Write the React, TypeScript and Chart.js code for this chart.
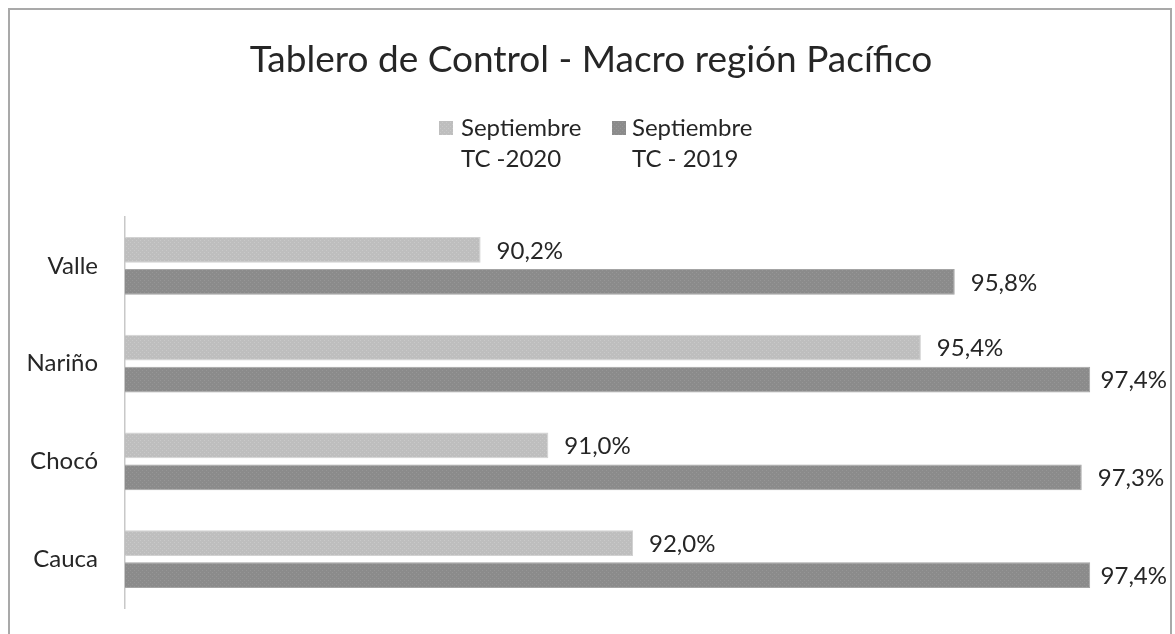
import React, { useEffect, useRef } from "react";
import { Chart, registerables } from "chart.js";

Chart.register(...registerables);

const chartTitle = "Tablero de Control - Macro región Pacífico";
const categories = ["Valle", "Nariño", "Chocó", "Cauca"];
const seriesNames = [
  ["Septiembre", "TC -2020"],
  ["Septiembre", "TC - 2019"],
];
const values2020 = [90.2, 95.4, 91.0, 92.0];
const values2019 = [95.8, 97.4, 97.3, 97.4];
const axisMin = 86;
const axisMax = 98;

const FONT = "Lato";
const TEXT = "#262626";

function fmt(v: number) {
  return v.toFixed(1).replace(".", ",") + "%";
}

function makePattern(base: string, dot: string) {
  const c = document.createElement("canvas");
  c.width = 4;
  c.height = 4;
  const g = c.getContext("2d")!;
  g.fillStyle = base;
  g.fillRect(0, 0, 4, 4);
  g.fillStyle = dot;
  g.fillRect(0, 0, 1, 1);
  g.fillRect(2, 2, 1, 1);
  return g.createPattern(c, "repeat")!;
}

export default function App() {
  const ref = useRef<HTMLCanvasElement | null>(null);

  useEffect(() => {
    if (!ref.current) return;
    const lightFill = makePattern("#bebebe", "#c9c9c9");
    const darkFill = makePattern("#8b8b8b", "#969696");

    const decor = {
      id: "decor",
      afterDraw(chart: any) {
        const ctx = chart.ctx;
        ctx.save();
        // title
        ctx.fillStyle = TEXT;
        ctx.textAlign = "center";
        ctx.textBaseline = "alphabetic";
        ctx.font = `37px ${FONT}`;
        ctx.fillText(chartTitle, chart.width / 2 + 1, 62);
        // legend
        ctx.textAlign = "left";
        ctx.font = `24px ${FONT}`;
        const fills = [lightFill, darkFill];
        const boxX = [429, 602];
        const textX = [451, 622];
        seriesNames.forEach((lines, i) => {
          ctx.fillStyle = fills[i];
          ctx.fillRect(boxX[i], 111, 14, 14);
          ctx.fillStyle = TEXT;
          lines.forEach((ln, k) => ctx.fillText(ln, textX[i], 126 + k * 31));
        });
        ctx.restore();
      },
      afterDatasetsDraw(chart: any) {
        const ctx = chart.ctx;
        ctx.save();
        ctx.font = `24px ${FONT}`;
        ctx.fillStyle = TEXT;
        ctx.textAlign = "left";
        ctx.textBaseline = "middle";
        const limit = 1157;
        chart.data.datasets.forEach((ds: any, i: number) => {
          const meta = chart.getDatasetMeta(i);
          meta.data.forEach((bar: any, j: number) => {
            const t = fmt(ds.data[j]);
            const w = ctx.measureText(t).width;
            let x = bar.x + 16;
            if (x + w > limit) x = limit - w;
            ctx.fillText(t, x, bar.y + 1);
          });
        });
        ctx.restore();
      },
    };

    const chart = new Chart(ref.current, {
      type: "bar",
      data: {
        labels: categories,
        datasets: [
          {
            label: seriesNames[0].join(" "),
            data: values2020,
            backgroundColor: lightFill,
            borderColor: "#d2d2d2",
            borderWidth: 1,
            borderSkipped: false,
            barPercentage: 0.8,
            categoryPercentage: 0.655,
          },
          {
            label: seriesNames[1].join(" "),
            data: values2019,
            backgroundColor: darkFill,
            borderColor: "#a4a4a4",
            borderWidth: 1,
            borderSkipped: false,
            barPercentage: 0.8,
            categoryPercentage: 0.655,
          },
        ],
      },
      options: {
        indexAxis: "y",
        responsive: false,
        animation: false,
        layout: { padding: { top: 207, bottom: 26, right: 29, left: 0 } },
        plugins: {
          legend: { display: false },
          title: { display: false },
          tooltip: { enabled: false },
        },
        scales: {
          x: {
            type: "linear",
            min: axisMin,
            max: axisMax,
            display: false,
          },
          y: {
            type: "category",
            grid: { display: false, drawTicks: false },
            border: { display: true, color: "#c8c8c8", width: 1.5 },
            ticks: {
              padding: 27,
              color: TEXT,
              font: { family: FONT, size: 24 },
            },
            afterFit(scale: any) {
              scale.width = 115;
              scale.paddingTop = 0;
              scale.paddingBottom = 0;
            },
          },
        },
      },
      plugins: [decor],
    } as any);
    return () => chart.destroy();
  }, []);

  return (
    <div
      style={{
        position: "fixed",
        left: 8,
        top: 8,
        width: 1160,
        height: 624,
        borderLeft: "2px solid #a9a9a9",
        borderTop: "2px solid #a9a9a9",
        borderRight: "2px solid #a9a9a9",
        background: "#fff",
      }}
    >
      <canvas ref={ref} width={1160} height={624} style={{ display: "block" }} />
    </div>
  );
}
